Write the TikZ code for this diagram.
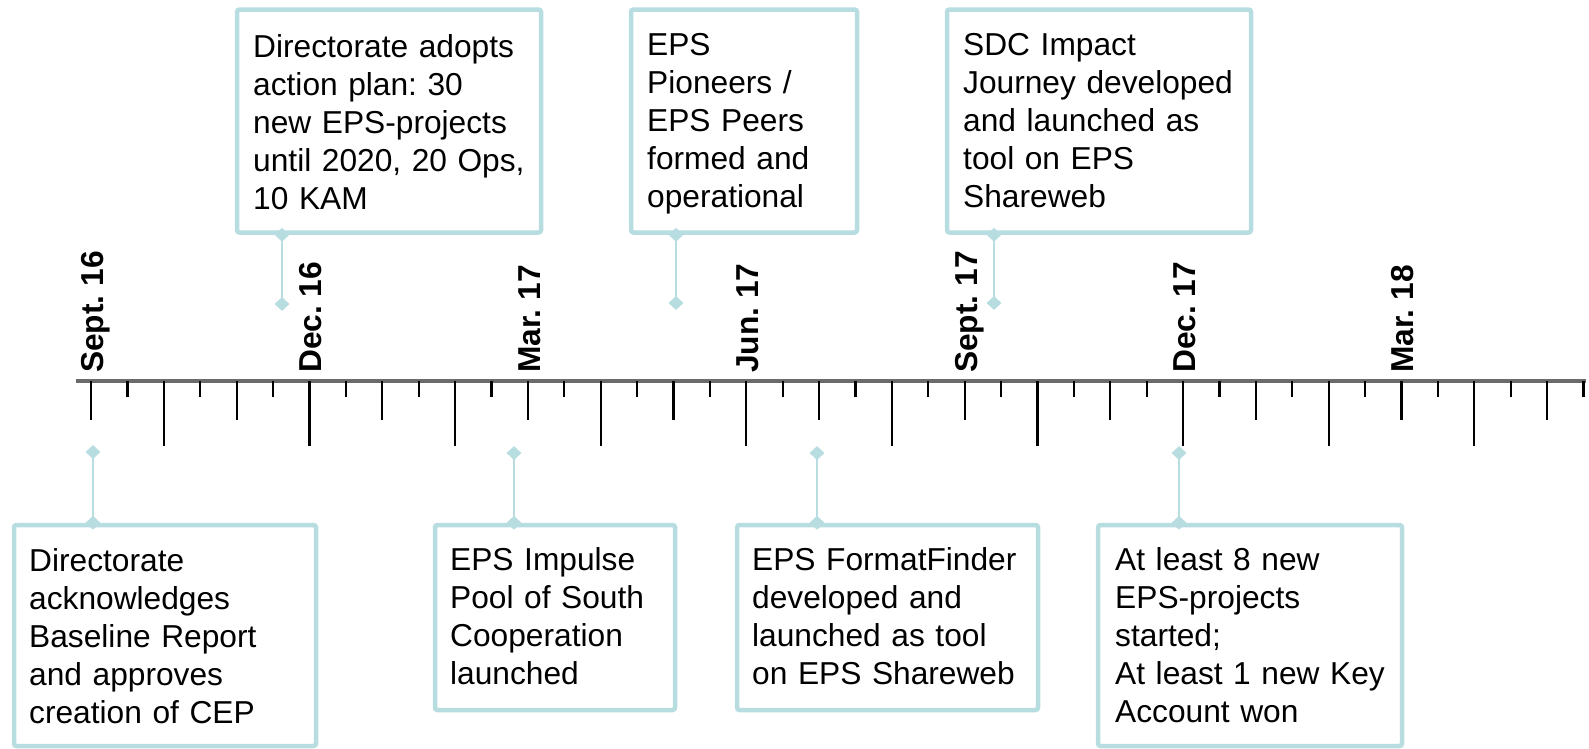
\documentclass[tikz,border=0pt]{standalone}
\usepackage{fontspec}
\setmainfont{Liberation Sans}
\usetikzlibrary{shapes.geometric}
\definecolor{evteal}{RGB}{183,221,225}
\definecolor{axisgray}{RGB}{107,107,107}
\frenchspacing
\tikzset{
  evbox/.style={draw=evteal, line width=4.5, rounded corners=2.5, inner sep=0, fill=white},
  evtext/.style={anchor=base west, inner sep=0, align=left, text width=300,
    font=\fontsize{31.7}{38}\selectfont},
  datelbl/.style={rotate=90, anchor=base west, inner sep=0,
    font=\bfseries\fontsize{31.7}{38}\selectfont},
  mark diamond/.style={shape=diamond, fill=evteal, inner sep=0, minimum width=15, minimum height=14},
  conn/.style={draw=evteal, line width=2.2},
  axisline/.style={draw=axisgray, line width=4},
  tickline/.style={draw=black, line width=2.2}
}
\begin{document}
\begin{tikzpicture}[x=1pt,y=-1pt]
\useasboundingbox (0,0) rectangle (1589,748);
% axis
\coordinate (axL) at (76,381);
\coordinate (axR) at (1586,381);
\draw[axisline] (axL) -- (axR);
\foreach \i in {0,...,41}{
  \pgfmathsetmacro\tx{91+36.4*\i}
  \pgfmathtruncatemacro\m{mod(\i,4)}
  \pgfmathsetmacro\tl{\m==0 ? 39 : (\m==2 ? 65 : 16)}
  \draw[tickline] (\tx,381) -- (\tx,381+\tl);
}
% date labels
\node[datelbl] (l0) at (91+12.5,373) {Sept. 16};
\node[datelbl] (l1) at (309.4+12.5,373) {Dec. 16};
\node[datelbl] (l2) at (527.8+12.5,373) {Mar. 17};
\node[datelbl] (l3) at (746.2+12.5,373) {Jun. 17};
\node[datelbl] (l4) at (964.6+12.5,373) {Sept. 17};
\node[datelbl] (l5) at (1183+12.5,373) {Dec. 17};
\node[datelbl] (l6) at (1401.4+12.5,373) {Mar. 18};
% boxes
\node[evbox, minimum width=302, minimum height=221] (b1) at (165,635.5) {};
\node[evbox, minimum width=304, minimum height=223] (b2) at (389,121) {};
\node[evbox, minimum width=240, minimum height=185] (b3) at (555,617.5) {};
\node[evbox, minimum width=226, minimum height=223] (b4) at (744,121) {};
\node[evbox, minimum width=301, minimum height=185] (b5) at (887.5,617.5) {};
\node[evbox, minimum width=304, minimum height=223] (b6) at (1099,121) {};
\node[evbox, minimum width=304, minimum height=221] (b7) at (1250,635.5) {};
% texts
\node[evtext] (t1) at (29,571) {Directorate\\acknowledges\\Baseline Report\\and approves\\creation of CEP};
\node[evtext] (t2) at (253,57) {Directorate adopts\\action plan: 30\\new EPS-projects\\until 2020, 20 Ops,\\10 KAM};
\node[evtext] (t3) at (450,570) {EPS Impulse\\Pool of South\\Cooperation\\launched};
\node[evtext] (t4) at (647,55) {EPS\\Pioneers /\\EPS Peers\\formed and\\operational};
\node[evtext] (t5) at (752,570) {EPS FormatFinder\\developed and\\launched as tool\\on EPS Shareweb};
\node[evtext] (t6) at (963,55) {SDC Impact\\Journey developed\\and launched as\\tool on EPS\\Shareweb};
\node[evtext] (t7) at (1115,570) {At least 8 new\\EPS-projects\\started;\\At least 1 new Key\\Account won};
% markers near axis
\node[mark diamond] (d1) at (93,452) {};
\node[mark diamond] (d2) at (282,304) {};
\node[mark diamond] (d3) at (514,453) {};
\node[mark diamond] (d4) at (676,303) {};
\node[mark diamond] (d5) at (817,453) {};
\node[mark diamond] (d6) at (994,303) {};
\node[mark diamond] (d7) at (1179,453) {};
% junction markers on boxes
\node[mark diamond] (j1) at (d1 |- b1.north) {};
\node[mark diamond] (j2) at (d2 |- b2.south) {};
\node[mark diamond] (j3) at (d3 |- b3.north) {};
\node[mark diamond] (j4) at (d4 |- b4.south) {};
\node[mark diamond] (j5) at (d5 |- b5.north) {};
\node[mark diamond] (j6) at (d6 |- b6.south) {};
\node[mark diamond] (j7) at (d7 |- b7.north) {};
% connectors
\draw[conn] (d1.center) -- (j1.center);
\draw[conn] (d2.center) -- (j2.center);
\draw[conn] (d3.center) -- (j3.center);
\draw[conn] (d4.center) -- (j4.center);
\draw[conn] (d5.center) -- (j5.center);
\draw[conn] (d6.center) -- (j6.center);
\draw[conn] (d7.center) -- (j7.center);
\end{tikzpicture}
\end{document}
